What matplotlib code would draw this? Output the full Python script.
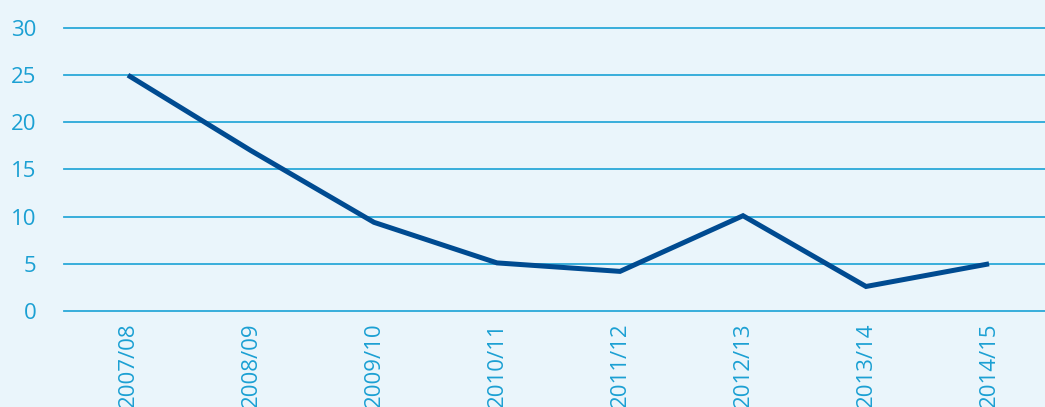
import matplotlib
matplotlib.use("Agg")
import matplotlib.pyplot as plt

seasons = ["2007/08", "2008/09", "2009/10", "2010/11", "2011/12", "2012/13", "2013/14", "2014/15"]
values = [25, 17, 9.4, 5.1, 4.2, 10.1, 2.6, 5.0]
y_ticks = [0, 5, 10, 15, 20, 25, 30]

bg = "#eaf5fb"
text_col = "#1ba0d3"
grid_col = "#2aa8d8"
line_col = "#004b91"

plt.rcParams["font.family"] = ["Open Sans", "DejaVu Sans"]

fig = plt.figure(figsize=(10.45, 4.07), dpi=100, facecolor=bg)
ax = fig.add_axes([64 / 1045, (407 - 311) / 407, 1 - 64 / 1045, (311 - 28) / 407])
ax.set_facecolor(bg)

x = list(range(len(seasons)))
ax.plot(x, values, color=line_col, lw=3.6, solid_capstyle="butt", solid_joinstyle="miter", zorder=3)

ax.set_ylim(0, 30)
ax.set_xlim(-0.52, 7.455)
ax.set_yticks(y_ticks)
ax.set_yticklabels([str(v) for v in y_ticks])
ax.set_xticks(x)
ax.set_xticklabels(seasons, rotation=90, va="top", ha="center")

for v in y_ticks:
    ax.axhline(v, color=grid_col, lw=1.3, zorder=1, clip_on=False)

for s in ax.spines.values():
    s.set_visible(False)
ax.tick_params(axis="both", length=0, colors=text_col)
ax.tick_params(axis="y", labelsize=16, pad=20)
ax.tick_params(axis="x", labelsize=16, pad=8)

fig.savefig("out.png", dpi=100, facecolor=bg)
